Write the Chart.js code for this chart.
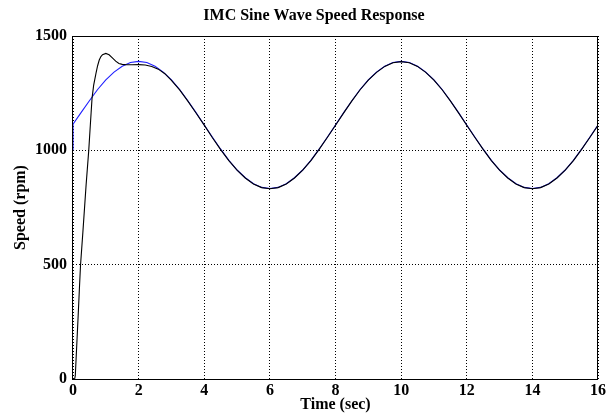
<!DOCTYPE html>
<html>
<head>
<meta charset="utf-8">
<script src="https://cdn.jsdelivr.net/npm/chart.js@4"></script>
<style>
  html, body { margin: 0; padding: 0; background: #fff; }
  #wrap { width: 611px; height: 414px; }
</style>
</head>
<body>
<div id="wrap"><canvas id="speedChart" width="611" height="414"></canvas></div>
<script>
const chartTitle = 'IMC Sine Wave Speed Response';
const xTitle = 'Time (sec)';
const yTitle = 'Speed (rpm)';

// reference (blue) speed
const refTime = [0, 0, 0.25, 0.5, 0.75, 1, 1.25, 1.5, 1.75, 2, 2.25, 2.5, 2.75, 3, 3.25, 3.5, 3.75, 4,
  4.25, 4.5, 4.75, 5, 5.25, 5.5, 5.75, 6, 6.25, 6.5, 6.75, 7, 7.25, 7.5, 7.75, 8,
  8.25, 8.5, 8.75, 9, 9.25, 9.5, 9.75, 10, 10.25, 10.5, 10.75, 11, 11.25, 11.5, 11.75, 12,
  12.25, 12.5, 12.75, 13, 13.25, 13.5, 13.75, 14, 14.25, 14.5, 14.75, 15, 15.25, 15.5, 15.75, 16];
const refSpeed = [1000, 1114, 1166, 1217, 1266, 1308, 1342, 1368, 1384, 1389, 1384, 1368, 1342, 1308, 1266, 1217, 1165, 1111,
  1057, 1005, 956, 914, 880, 854, 838, 833, 838, 854, 880, 914, 956, 1005, 1057, 1111,
  1165, 1217, 1266, 1308, 1342, 1368, 1384, 1389, 1384, 1368, 1342, 1308, 1266, 1217, 1165, 1111,
  1057, 1005, 956, 914, 880, 854, 838, 833, 838, 854, 880, 914, 956, 1005, 1057, 1111];

// actual (black) motor speed
const actTime = [0, 0.05, 0.07, 0.1, 0.15, 0.2, 0.23, 0.3, 0.35, 0.4, 0.48, 0.53, 0.58, 0.63, 0.7, 0.75, 0.8, 0.85, 0.9,
  1, 1.1, 1.2, 1.3, 1.4, 1.5, 1.6, 1.8, 2, 2.2, 2.4, 2.6, 2.8, 3, 3.25, 3.5, 3.75, 4,
  4.25, 4.5, 4.75, 5, 5.25, 5.5, 5.75, 6, 6.25, 6.5, 6.75, 7, 7.25, 7.5, 7.75, 8,
  8.25, 8.5, 8.75, 9, 9.25, 9.5, 9.75, 10, 10.25, 10.5, 10.75, 11, 11.25, 11.5, 11.75, 12,
  12.25, 12.5, 12.75, 13, 13.25, 13.5, 13.75, 14, 14.25, 14.5, 14.75, 15, 15.25, 15.5, 15.75, 16];
const actSpeed = [0, 0, 15, 105, 255, 410, 500, 640, 745, 850, 1000, 1115, 1227, 1285, 1337, 1370, 1395, 1410, 1418,
  1424, 1418, 1404, 1390, 1380, 1376, 1375, 1374, 1375, 1373, 1367, 1355, 1335, 1306, 1264, 1215, 1163, 1110,
  1055, 1003, 955, 913, 879, 853, 837, 832, 837, 853, 879, 913, 955, 1004, 1056, 1110,
  1164, 1216, 1265, 1307, 1341, 1367, 1383, 1388, 1383, 1367, 1341, 1307, 1265, 1216, 1164, 1110,
  1056, 1004, 955, 913, 879, 853, 837, 832, 837, 853, 879, 913, 955, 1004, 1056, 1110];

const xTicks = [0, 2, 4, 6, 8, 10, 12, 14, 16];
const yTicks = [0, 500, 1000, 1500];

const serif = 'Liberation Serif, Times New Roman, serif';

const toPoints = (xs, ys) => xs.map((x, i) => ({ x: x, y: ys[i] }));

// title and the closed frame round the plot
const framePlugin = {
  id: 'frame',
  afterDatasetsDraw(chart) {
    const { ctx, chartArea: a } = chart;
    ctx.save();
    ctx.strokeStyle = '#000';
    ctx.lineWidth = 1;
    ctx.strokeRect(Math.round(a.left) - 0.5, Math.round(a.top) + 0.5,
      Math.round(a.right - a.left), Math.round(a.bottom - a.top));
    ctx.restore();
  },
  afterDraw(chart) {
    const ctx = chart.ctx;
    ctx.save();
    ctx.font = 'bold 16px ' + serif;
    ctx.fillStyle = '#000';
    ctx.textAlign = 'center';
    ctx.textBaseline = 'middle';
    ctx.fillText(chartTitle, 314, 16);
    ctx.restore();
  }
};

new Chart(document.getElementById('speedChart').getContext('2d'), {
  type: 'line',
  data: {
    datasets: [
      {
        label: 'Actual speed',
        data: toPoints(actTime, actSpeed),
        borderColor: '#000000',
        borderWidth: 1.1,
        pointRadius: 0,
        tension: 0
      },
      {
        label: 'Reference speed',
        data: toPoints(refTime, refSpeed),
        borderColor: '#1f1fff',
        borderWidth: 1.1,
        pointRadius: 0,
        tension: 0
      }
    ]
  },
  options: {
    responsive: false,
    animation: false,
    layout: { padding: { top: 36, right: 13, bottom: 0, left: 0 } },
    plugins: {
      legend: { display: false },
      title: { display: false },
      tooltip: { enabled: false }
    },
    scales: {
      x: {
        type: 'linear',
        min: 0,
        max: 16,
        afterBuildTicks: s => { s.ticks = xTicks.map(v => ({ value: v })); },
        afterFit: s => { s.height = 35; },
        grid: { color: '#000', lineWidth: 1, drawTicks: false },
        border: { display: false, dash: [1, 2] },
        ticks: { color: '#000', padding: 2, callback: v => String(v),
          font: { family: serif, size: 16, weight: 'bold' } },
        title: { display: true, text: xTitle, color: '#000', padding: { top: 0, bottom: 0 },
          font: { family: serif, size: 16, weight: 'bold' } }
      },
      y: {
        type: 'linear',
        min: 0,
        max: 1500,
        afterBuildTicks: s => { s.ticks = yTicks.map(v => ({ value: v })); },
        afterFit: s => { s.width = 73; },
        grid: { color: '#000', lineWidth: 1, drawTicks: false },
        border: { display: false, dash: [1, 2] },
        ticks: { color: '#000', padding: 6, callback: v => String(v),
          font: { family: serif, size: 16, weight: 'bold' } },
        title: { display: true, text: yTitle, color: '#000', padding: { top: 11, bottom: 0 },
          font: { family: serif, size: 16, weight: 'bold' } }
      }
    }
  },
  plugins: [framePlugin]
});
</script>
</body>
</html>
